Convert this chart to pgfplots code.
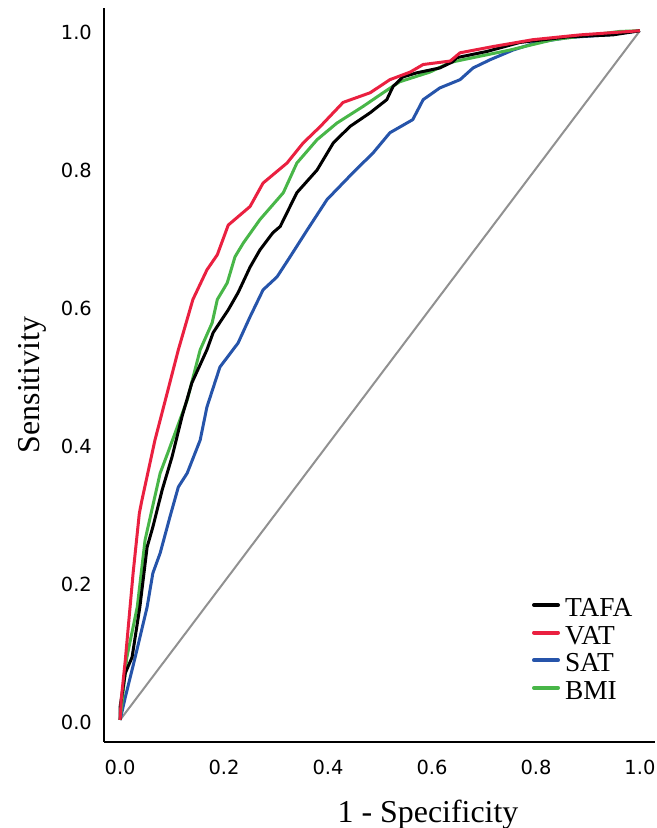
\documentclass[border=0pt]{standalone}
\usepackage{fontspec}
\setmainfont{Liberation Serif}
\newfontfamily\dejavu{DejaVu Sans}
\usepackage{pgfplots}
\pgfplotsset{compat=1.18}
\usepackage{pgfplotstable}
\definecolor{cred}{RGB}{234,32,64}
\definecolor{cblue}{RGB}{38,84,170}
\definecolor{cgreen}{RGB}{72,182,72}
\definecolor{cgray}{RGB}{145,145,145}
\pgfplotstableread{
x y
0 0
0.000 0.019
0.010 0.068
0.023 0.091
0.038 0.164
0.052 0.251
0.063 0.280
0.081 0.334
0.100 0.382
0.119 0.440
0.138 0.489
0.167 0.537
0.179 0.562
0.208 0.595
0.227 0.620
0.250 0.657
0.269 0.682
0.294 0.707
0.308 0.716
0.340 0.765
0.379 0.798
0.410 0.837
0.442 0.861
0.481 0.881
0.513 0.900
0.525 0.919
0.544 0.933
0.571 0.939
0.615 0.946
0.640 0.955
0.648 0.961
0.706 0.970
0.769 0.983
0.860 0.991
0.948 0.994
1 1
}\tafa
\pgfplotstableread{
x y
0 0
0.002 0.029
0.010 0.087
0.025 0.213
0.037 0.300
0.042 0.319
0.067 0.406
0.087 0.464
0.112 0.537
0.140 0.610
0.167 0.653
0.187 0.675
0.208 0.718
0.250 0.745
0.275 0.779
0.321 0.808
0.352 0.837
0.385 0.861
0.429 0.896
0.481 0.910
0.519 0.929
0.558 0.940
0.583 0.951
0.635 0.956
0.654 0.968
0.717 0.977
0.794 0.987
0.885 0.994
1 1
}\vat
\pgfplotstableread{
x y
0 0
0.010 0.033
0.029 0.091
0.052 0.164
0.063 0.213
0.077 0.242
0.096 0.295
0.112 0.338
0.129 0.358
0.154 0.406
0.167 0.454
0.192 0.512
0.227 0.547
0.250 0.585
0.275 0.624
0.302 0.643
0.327 0.672
0.360 0.711
0.398 0.755
0.448 0.794
0.487 0.823
0.519 0.852
0.563 0.871
0.583 0.900
0.615 0.917
0.654 0.929
0.679 0.946
0.712 0.958
0.756 0.972
0.802 0.983
0.860 0.990
0.937 0.994
1 1
}\sat
\pgfplotstableread{
x y
0 0
0.013 0.091
0.033 0.164
0.048 0.261
0.077 0.358
0.092 0.388
0.129 0.464
0.154 0.537
0.177 0.576
0.187 0.610
0.206 0.634
0.221 0.672
0.237 0.692
0.269 0.726
0.314 0.765
0.340 0.808
0.379 0.842
0.417 0.866
0.467 0.890
0.506 0.910
0.538 0.926
0.596 0.940
0.635 0.954
0.660 0.958
0.750 0.972
0.833 0.987
0.962 0.999
1 1
}\bmi
\begin{document}
\begin{tikzpicture}
\useasboundingbox (-104bp,-86bp) rectangle (553bp,742bp);
\begin{axis}[
  at={(0,0)}, anchor=south west,
  scale only axis, width=551bp, height=734bp,
  xmin=-0.031, xmax=1.029, ymin=-0.032, ymax=1.033,
  axis x line*=bottom, axis y line*=left,
  axis line style={line width=1.3bp, black},
  xtick={0,0.2,0.4,0.6,0.8,1.0}, ytick={0,0.2,0.4,0.6,0.8,1.0},
  major tick length=0pt,
  /pgf/number format/assume math mode=true,
  /pgf/number format/fixed, /pgf/number format/fixed zerofill, /pgf/number format/precision=1,
  tick label style={font=\dejavu\fontsize{19.5}{19.5}\selectfont, inner sep=0pt},
  xticklabel style={anchor=north, yshift=-18bp},
  yticklabel style={anchor=east, xshift=-12bp, yshift=-2bp},
  legend style={at={(axis cs:0.792,0.187)}, anchor=north west, draw=none, fill=none, inner sep=0pt,
    font=\fontsize{27.5}{27.5}\selectfont,
    nodes={inner sep=0pt, text height=25.3bp, text depth=2.3bp},
    column sep=5bp},
  legend cell align=left,
  legend image code/.code={\draw[line width=4bp, line cap=round] (0bp,0bp) -- (24bp,0bp);},
  every axis plot/.append style={line width=3bp, line join=round},
]
\addplot[cgray, line width=2bp, forget plot] coordinates {(0,0) (1,1)};
\addlegendimage{black}
\addlegendimage{cred}
\addlegendimage{cblue}
\addlegendimage{cgreen}
\addplot[cblue, forget plot] table {\sat};
\addplot[cgreen, forget plot] table {\bmi};
\addplot[black, forget plot] table {\tafa};
\addplot[cred, forget plot] table {\vat};
\legend{TAFA, VAT, SAT, BMI}
\end{axis}
\node[rotate=90, anchor=base, font=\fontsize{32}{32}\selectfont] at (-64bp,357bp) {Sensitivity};
\node[anchor=base, font=\fontsize{32}{32}\selectfont] at (324bp,-80bp) {1 - Specificity};
\end{tikzpicture}
\end{document}
